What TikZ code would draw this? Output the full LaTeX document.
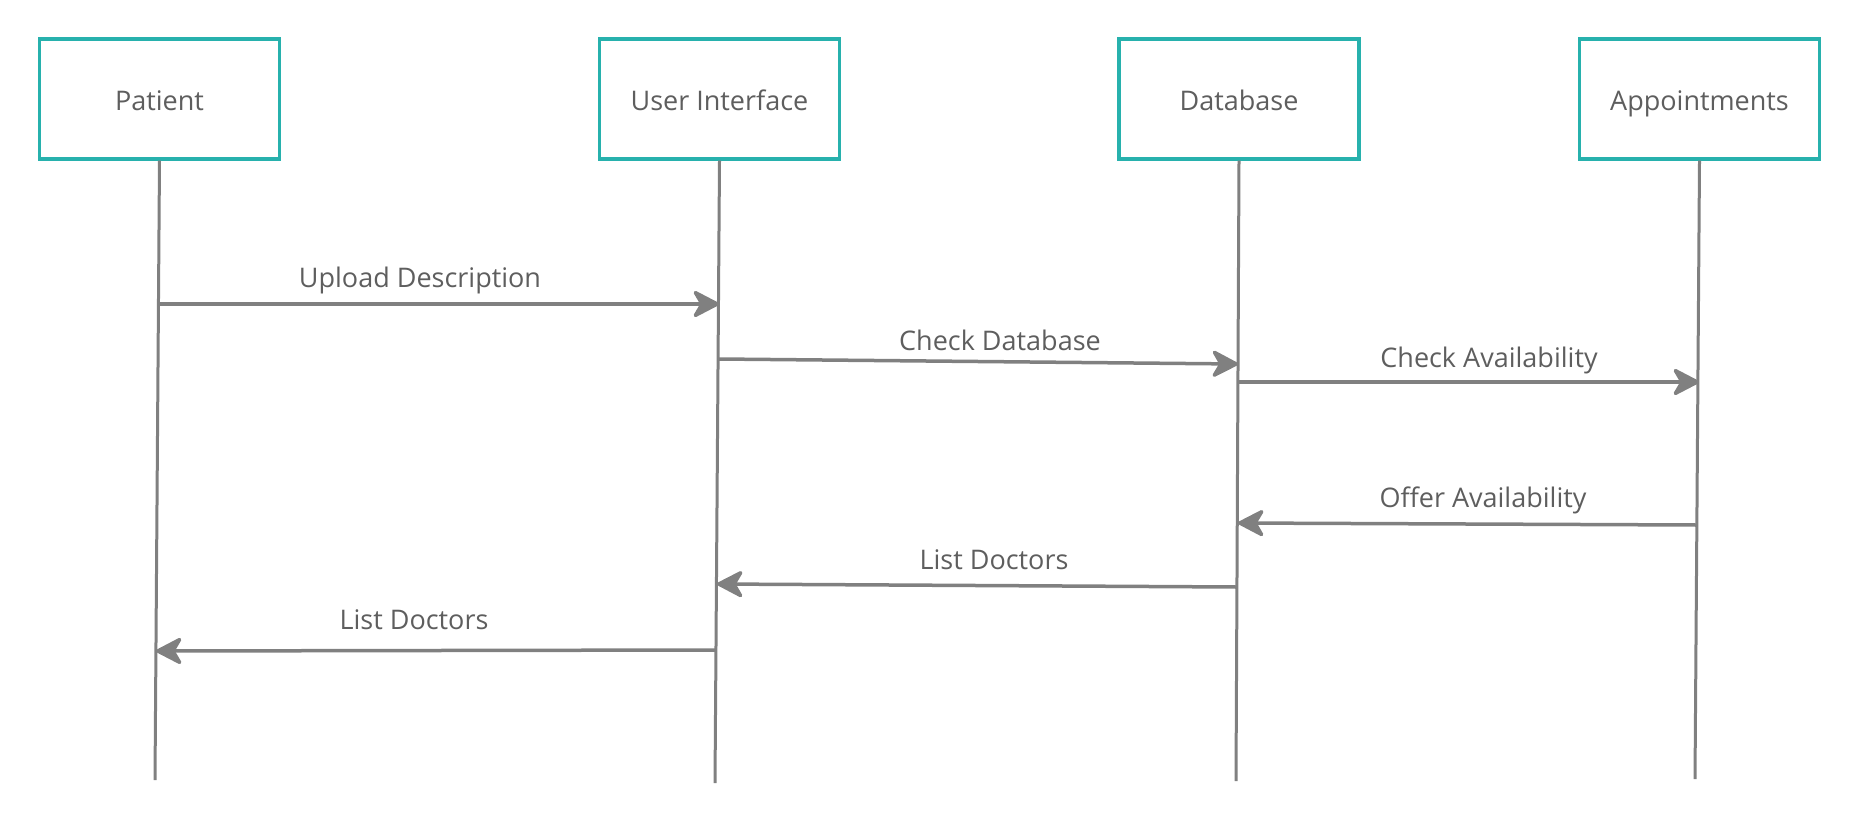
\documentclass[tikz,border=0pt]{standalone}
\usepackage{fontspec}
\setmainfont{Open Sans}
\usetikzlibrary{arrows.meta}
\definecolor{teal1}{HTML}{27B1AD}
\definecolor{line1}{HTML}{808080}
\definecolor{txt1}{HTML}{5E5E5E}
\begin{document}
\begin{tikzpicture}[x=1pt,y=-1pt,
  actor/.style={draw=teal1,line width=3.4pt,fill=white,minimum width=240pt,minimum height=120pt,inner sep=0pt,
    text=txt1,font=\fontsize{27}{31}\selectfont,text height=22pt,text depth=0pt},
  lifeline/.style={draw=line1,line width=3pt},
  msg/.style={draw=line1,line width=3.5pt,-{Stealth[length=30pt,width=31pt,inset=9pt,round]}},
  lbl/.style={text=txt1,font=\fontsize{27}{31}\selectfont,inner sep=0pt}]
\useasboundingbox (0,0) rectangle (1860,822);
% actors
\node[actor] (P) at (159.5,99) {Patient};
\node[actor] (U) at (719.5,99) {User Interface};
\node[actor] (D) at (1239,99) {Database};
\node[actor] (A) at (1699.5,99) {Appointments};
% lifeline ends
\coordinate (Pe) at (155,780);
\coordinate (Ue) at (715,783);
\coordinate (De) at (1236,781);
\coordinate (Ae) at (1695,779);
\draw[lifeline] (P.south) -- (Pe);
\draw[lifeline] (U.south) -- (Ue);
\draw[lifeline] (D.south) -- (De);
\draw[lifeline] (A.south) -- (Ae);
% message endpoints
\coordinate (m1a) at (158,304);  \coordinate (m1b) at (719,304);
\coordinate (m2a) at (719,359);  \coordinate (m2b) at (1238,364);
\coordinate (m3a) at (1238,382); \coordinate (m3b) at (1699,382);
\coordinate (m4a) at (1697,525); \coordinate (m4b) at (1238,523);
\coordinate (m5a) at (1237,587); \coordinate (m5b) at (717,584);
\coordinate (m6a) at (716,650);  \coordinate (m6b) at (156,651);
\draw[msg] (m1a) -- (m1b);
\draw[msg] (m2a) -- (m2b);
\draw[msg] (m3a) -- (m3b);
\draw[msg] (m4a) -- (m4b);
\draw[msg] (m5a) -- (m5b);
\draw[msg] (m6a) -- (m6b);
% labels
\node[lbl] (l1) at (420,280) {Upload Description};
\node[lbl] (l2) at (1000,340) {Check Database};
\node[lbl] (l3) at (1489,360) {Check Availability};
\node[lbl] (l4) at (1483,500) {Offer Availability};
\node[lbl] (l5) at (994,560) {List Doctors};
\node[lbl] (l6) at (414,620) {List Doctors};
\end{tikzpicture}
\end{document}
